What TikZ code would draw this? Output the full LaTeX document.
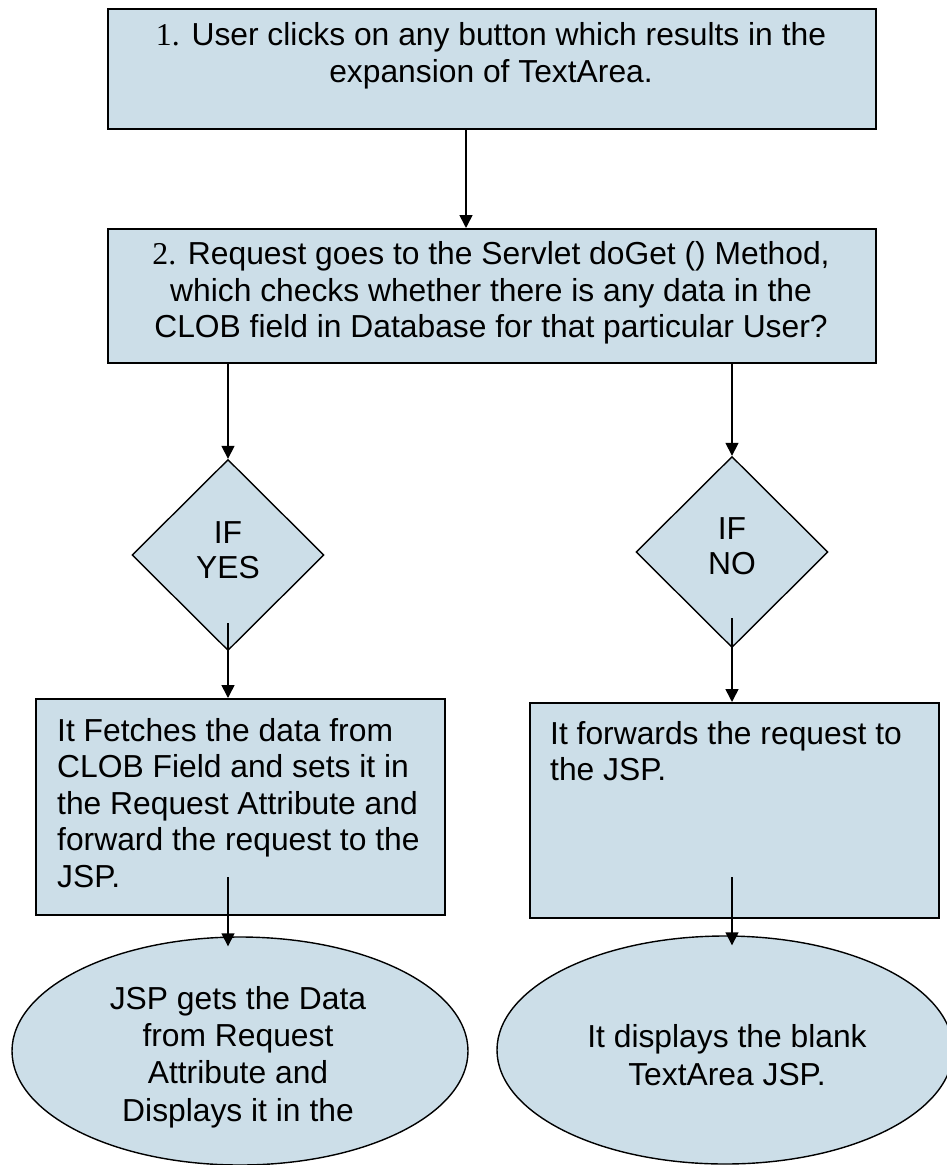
\documentclass[tikz,border=0pt]{standalone}
\usepackage{fontspec}
\setmainfont{Liberation Sans}
\newfontfamily\serifnum{Liberation Serif}
\usetikzlibrary{shapes.geometric,arrows.meta}
\definecolor{boxfill}{RGB}{204,222,232}
\begin{document}
\begin{tikzpicture}[x=1pt,y=-1pt,
  box/.style={draw=black, line width=2.2pt, fill=boxfill, inner sep=0pt},
  dia/.style={diamond, draw=black, line width=1.4pt, fill=boxfill, inner sep=0pt,
    minimum width=192pt, minimum height=191pt},
  ell/.style={ellipse, draw=black, line width=1.4pt, fill=boxfill, inner sep=0pt,
    minimum width=456pt, minimum height=228pt},
  txt/.style={inner sep=0pt, font=\fontsize{31.8pt}{36.5pt}\selectfont},
  dtxt/.style={inner sep=0pt, align=center, font=\fontsize{31.8pt}{34.5pt}\selectfont},
  etxt/.style={inner sep=0pt, align=center, font=\fontsize{31.8pt}{37.3pt}\selectfont},
  arr/.style={line width=1.6pt, -{Triangle[width=13pt,length=13pt]}}]
\useasboundingbox (0,0) rectangle (947,1165);

% boxes
\node[box, anchor=north west, minimum width=768pt, minimum height=120pt] (b1) at (107,8) {};
\node[box, anchor=north west, minimum width=768pt, minimum height=134pt] (b2) at (107,228) {};
\node[box, anchor=north west, minimum width=409pt, minimum height=216pt] (b3) at (35,698) {};
\node[box, anchor=north west, minimum width=409pt, minimum height=215pt] (b4) at (529,702) {};

% box texts
\node[txt, align=center] (t1) at (491,56) {{\serifnum 1.} User clicks on any button which results in the\\expansion of TextArea.};
\node[txt, align=center] (t2) at (491,293) {{\serifnum 2.} Request goes to the Servlet doGet () Method,\\which checks whether there is any data in the\\CLOB field in Database for that particular User?};
\node[txt, align=left, anchor=north west] (t3) at (57,718) {It Fetches the data from\\CLOB Field and sets it in\\the Request Attribute and\\forward the request to the\\JSP.};
\node[txt, align=left, anchor=north west] (t4) at (550,721) {It forwards the request to\\the JSP.};

% decisions
\node[dia] (d1) at (228,555) {};
\node[dia] (d2) at (732,552) {};
\node[dtxt] (dt1) at (228,550) {IF\\YES};
\node[dtxt] (dt2) at (732,546) {IF\\NO};

% ellipses
\node[ell] (e1) at (240,1051) {};
\node[ell] (e2) at (725,1050) {};
\node[etxt] (et1) at (238,1057) {JSP gets the Data\\from Request\\Attribute and\\Displays it in the};
\node[etxt] (et2) at (727,1055) {It displays the blank\\TextArea JSP.};

% connector helpers
\coordinate (x1) at (466,0);
\coordinate (s4) at (228,623);
\coordinate (s5) at (732,618);
\coordinate (s6) at (228,877);
\coordinate (s7) at (732,877);

% connectors
\draw[arr] (b1.south -| x1) -- (b2.north -| x1);
\draw[arr] (b2.south -| d1.north) -- (d1.north);
\draw[arr] (b2.south -| d2.north) -- (d2.north);
\draw[arr] (s4) -- (b3.north -| s4);
\draw[arr] (s5) -- (b4.north -| s5);
\draw[arr, shorten >=-10pt] (s6) -- (e1.north -| s6);
\draw[arr, shorten >=-10pt] (s7) -- (e2.north -| s7);
\end{tikzpicture}
\end{document}
